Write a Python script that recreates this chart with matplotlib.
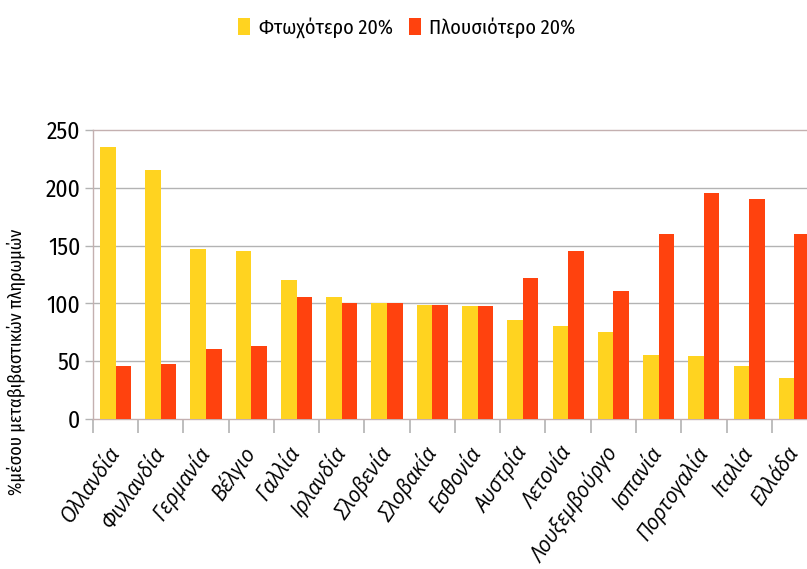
import matplotlib
matplotlib.use('Agg')
import matplotlib.pyplot as plt
import numpy as np

countries = ['Ολλανδία', 'Φινλανδία', 'Γερμανία', 'Βέλγιο', 'Γαλλία', 'Ιρλανδία',
             'Σλοβενία', 'Σλοβακία', 'Εσθονία', 'Αυστρία', 'Λετονία', 'Λουξεμβούργο',
             'Ισπανία', 'Πορτογαλία', 'Ιταλία', 'Ελλάδα']
poorest = [235.5, 215.5, 147, 145.5, 120, 105.5, 100, 98.5, 97.5, 85.5, 80.5, 75.5,
           55.5, 54.5, 46, 35.5]
richest = [46, 47.5, 60.5, 63, 105.5, 100, 100, 98.5, 97.5, 122, 145.5, 110.5,
           160, 195.5, 190.5, 160]
yticks = [0, 50, 100, 150, 200, 250]

YELLOW = '#ffd320'
ORANGE = '#ff420e'
FRAME = '#c4b0b0'
GRID = '#b3b3b3'

NARROW = ['Fira Sans Condensed', 'DejaVu Sans']

fig = plt.figure(figsize=(8.07, 5.69), dpi=100)
ax = fig.add_axes([0.1152, 0.2636, 0.8972, 0.5079])

x = np.arange(len(countries))
w = 0.345
ax.bar(x + 0.5 - w / 2, poorest, w, color=YELLOW, zorder=3, label='Φτωχότερο 20%')
ax.bar(x + 0.5 + w / 2, richest, w, color=ORANGE, zorder=3, label='Πλουσιότερο 20%')

ax.set_xlim(0, len(countries))
ax.set_ylim(0, 250)
ax.set_yticks(yticks)
ax.set_yticklabels([str(v) for v in yticks], family=NARROW, fontsize=17)
ax.tick_params(axis='y', length=6, width=1, color=GRID, pad=3)

# category labels at centres, tick marks at the boundaries
ax.set_xticks(x + 0.5)
ax.set_xticklabels(countries, rotation=55, ha='right', va='center',
                   rotation_mode='anchor', family=['Open Sans', 'DejaVu Sans'],
                   style='italic', fontsize=15)
ax.tick_params(axis='x', which='major', length=0, pad=22)
ax.set_xticks(np.arange(len(countries) + 1), minor=True)
ax.tick_params(axis='x', which='minor', length=10, width=1.2, color=GRID)

for v in yticks[1:-1]:
    ax.axhline(v, color=GRID, lw=1, zorder=1)

for s in ['left', 'top', 'bottom']:
    ax.spines[s].set_color(FRAME)
    ax.spines[s].set_linewidth(1)
ax.spines['right'].set_visible(False)

fig.text(16 / 807, 1 - 362 / 569, '%μέσου μεταβιβαστικών πληρωμών', rotation=90,
         ha='center', va='center', family=NARROW, fontsize=13)

fig.legend(loc='upper center', bbox_to_anchor=(0.504, 1.002), ncol=2, frameon=False,
           prop={'family': NARROW, 'size': 14.5}, handlelength=0.6, handleheight=0.9,
           handletextpad=0.4, columnspacing=0.8)

fig.savefig('out.png', dpi=100)
